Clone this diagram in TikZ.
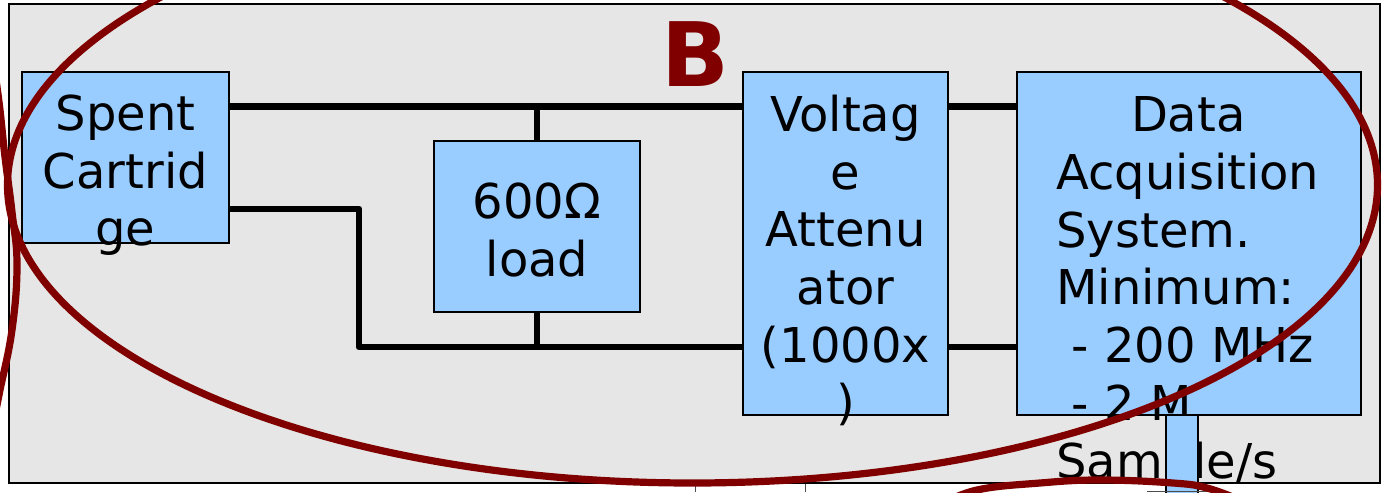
\documentclass[tikz,border=0pt]{standalone}
\usepackage{fontspec}
\setmainfont{DejaVu Sans}
\definecolor{boxblue}{HTML}{99CCFF}
\definecolor{panelgray}{HTML}{E6E6E6}
\definecolor{ringred}{HTML}{800000}
\tikzset{
  box/.style={draw=black, line width=0.75pt, fill=boxblue, inner sep=0pt, rectangle},
  txt/.style={font=\fontsize{24}{28.85}\selectfont, inner sep=0pt, align=center, anchor=north},
  wire/.style={line width=3.4pt, line join=round},
  ring/.style={draw=ringred, line width=3.6pt},
  edgetick/.style={line width=0.5pt, black!70}
}
\begin{document}
\begin{tikzpicture}[x=0.5pt,y=-0.5pt]
\useasboundingbox (0,0) rectangle (1384,492);
% panel
\draw[fill=panelgray, line width=0.8pt] (9,4) rectangle (1380,483);
% boxes
\node[box, minimum width=103.5pt, minimum height=85.5pt] (sc) at (125.5,157.5) {};
\node[box, minimum width=103pt, minimum height=85.5pt] (load) at (537,226.5) {};
\node[box, minimum width=102.5pt, minimum height=171.5pt] (va) at (845.5,243.5) {};
\node[box, minimum width=172pt, minimum height=171.5pt] (daq) at (1189,243.5) {};
% wires
\coordinate (ytop) at (0,106.5);
\coordinate (ybot) at (0,347);
\coordinate (bend) at (359,209);
\draw[wire] (sc.east |- ytop) -- (va.west |- ytop);
\draw[wire] (sc.east |- bend) -- (bend) |- (va.west |- ybot);
\draw[wire] (load.north) -- (load.north |- ytop);
\draw[wire] (load.south) -- (load.south |- ybot);
\draw[wire] (va.east |- ytop) -- (daq.west |- ytop);
\draw[wire] (va.east |- ybot) -- (daq.west |- ybot);
% texts
\node[txt] (sctext) at (125.5,89.6) {\strut Spent\\Cartrid\\ge};
\node[txt] (loadtext) at (537,177.6) {\strut 600Ω\\load};
\node[txt] (vatext) at (845.5,90.6) {\strut Voltag\\e\\Attenu\\ator\\(1000x\\)};
\node[txt, align=left, anchor=north west] (daqtext) at (1056,91.1) {\strut\hspace*{37.3pt}Data\\Acquisition\\System.\\Minimum:\\\hspace*{0.318em}- 200 MHz\\\hspace*{0.318em}- 2 M\\Sample/s};
% small tab under DAQ box
\node[box, minimum width=16pt, minimum height=42.5pt] (tab) at (1182,457.5) {};
% ticks at the bottom edge
\draw[edgetick] (695,484) -- (695,492);
\draw[edgetick] (805,484) -- (805,492);
\draw[edgetick] (1147,491) -- (1217,491);
% red annotation
\draw[ring] (692.5,185) ellipse [x radius=342.5pt, y radius=149pt];
\draw[ring] plot[smooth, tension=0.7] coordinates {(-4,80) (0,110) (5,157) (12,212) (17,265) (12,330) (0,390) (-4,410)};
\draw[ring] plot[smooth, tension=0.7] coordinates {(940,505) (977,490) (1040,483) (1100,480) (1173,483) (1207,488) (1240,500)};
\node[font=\fontsize{44.5}{50}\selectfont\bfseries, text=ringred, anchor=base, inner sep=0pt] (lbl) at (695.5,87) {B};
\end{tikzpicture}
\end{document}
